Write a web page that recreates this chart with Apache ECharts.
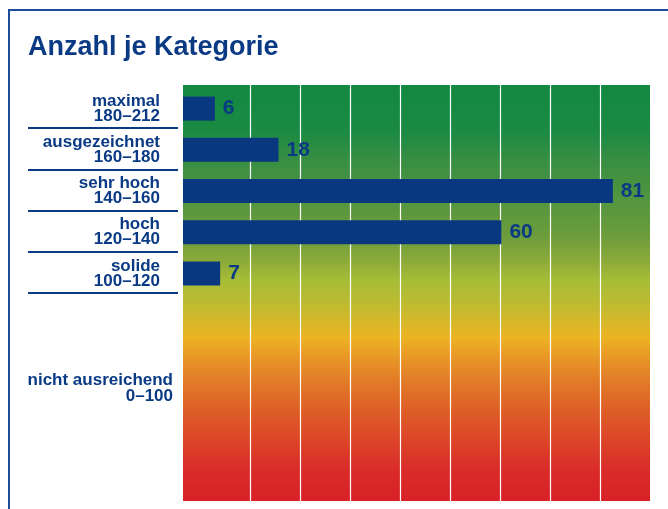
<!DOCTYPE html>
<html>
<head>
<meta charset="utf-8">
<script src="https://cdn.jsdelivr.net/npm/echarts@6/dist/echarts.min.js"></script>
<style>
  html, body { margin: 0; padding: 0; background: #fff; }
  #chart { width: 668px; height: 509px; }
</style>
</head>
<body>
<div id="chart"></div>
<script>
// Kategorien (oben nach unten) und Anzahl.
const categories = ['maximal\n180–212', 'ausgezeichnet\n160–180', 'sehr hoch\n140–160', 'hoch\n120–140', 'solide\n100–120']
const counts = [6, 18, 81, 60, 7]
const restCategory = ['nicht ausreichend\n0–100']

const navy = '#0b3a84'
const font = '"Liberation Sans", Arial, sans-serif'

// Verlauf grün -> gelb -> rot.
const bgGradient = new echarts.graphic.LinearGradient(0, 0, 0, 1, [
  { offset: 0, color: '#138840' },
  { offset: 0.11, color: '#1b8a43' },
  { offset: 0.18, color: '#378e43' },
  { offset: 0.28, color: '#55963f' },
  { offset: 0.36, color: '#6b9c3c' },
  { offset: 0.42, color: '#8aa93a' },
  { offset: 0.47, color: '#a7bd37' },
  { offset: 0.52, color: '#bbbb32' },
  { offset: 0.565, color: '#d4b82a' },
  { offset: 0.606, color: '#ecb422' },
  { offset: 0.65, color: '#e89a26' },
  { offset: 0.71, color: '#e27c28' },
  { offset: 0.78, color: '#de5f27' },
  { offset: 0.855, color: '#dc4428' },
  { offset: 0.925, color: '#d92c29' },
  { offset: 1, color: '#d82127' },
])

const chart = echarts.init(document.getElementById('chart'))

chart.setOption({
  animation: false,
  title: {
    text: 'Anzahl je Kategorie',
    left: 23,
    top: 29,
    textStyle: { color: navy, fontSize: 27, fontWeight: 'bold', fontFamily: font },
  },
  graphic: [
    {
      type: 'rect',
      shape: { x: 9, y: 10, width: 700, height: 600 },
      style: { fill: 'none', stroke: '#1c4d98', lineWidth: 2 },
      silent: true,
    },
  ],
  grid: [
    // 0: Hintergrund
    { left: 183, top: 85, width: 467, height: 416, show: true, backgroundColor: bgGradient, borderWidth: 0, z: 0 },
    // 1: weiße Linien
    { left: 200, top: 85, width: 450, height: 416 },
    // 2: Trennlinien links
    { left: 28, top: 87, width: 150, height: 206 },
    // 3: Balken
    { left: 183, top: 88, width: 467, height: 206 },
    // 4: nicht ausreichend
    { left: 183, top: 293, width: 467, height: 190 },
  ],
  xAxis: [
    { gridIndex: 0, type: 'value', show: false },
    {
      gridIndex: 1,
      type: 'value',
      min: 0,
      max: 450,
      interval: 50,
      axisLine: { show: false },
      axisTick: { show: false },
      axisLabel: { show: false },
      splitLine: { show: true, showMinLine: false, showMaxLine: false, lineStyle: { color: '#ffffff', width: 1.2 } },
    },
    { gridIndex: 2, type: 'value', show: false },
    { gridIndex: 3, type: 'value', min: 0, max: 88, show: false },
    { gridIndex: 4, type: 'value', show: false },
  ],
  yAxis: [
    { gridIndex: 0, type: 'value', show: false },
    { gridIndex: 1, type: 'value', show: false },
    {
      gridIndex: 2,
      type: 'category',
      inverse: true,
      data: categories,
      axisLine: { show: false },
      axisTick: { show: false },
      axisLabel: { show: false },
      splitLine: { show: true, showMinLine: false, lineStyle: { color: navy, width: 2 } },
    },
    {
      gridIndex: 3,
      type: 'category',
      inverse: true,
      data: categories,
      axisLine: { show: false },
      axisTick: { show: false },
      axisLabel: {
        margin: 23,
        color: navy,
        fontSize: 17,
        fontWeight: 'bold',
        fontFamily: font,
        lineHeight: 15,
        align: 'right',
      },
    },
    {
      gridIndex: 4,
      type: 'category',
      data: restCategory,
      axisLine: { show: false },
      axisTick: { show: false },
      axisLabel: {
        margin: 10,
        color: navy,
        fontSize: 17,
        fontWeight: 'bold',
        fontFamily: font,
        lineHeight: 16,
        align: 'right',
      },
    },
  ],
  series: [
    {
      type: 'bar',
      xAxisIndex: 3,
      yAxisIndex: 3,
      data: counts,
      barWidth: 24,
      itemStyle: { color: '#0a3880' },
      z: 5,
      label: {
        show: true,
        position: 'right',
        distance: 8,
        color: navy,
        fontSize: 21,
        fontWeight: 'bold',
        fontFamily: font,
      },
    },
  ],
})
</script>
</body>
</html>
